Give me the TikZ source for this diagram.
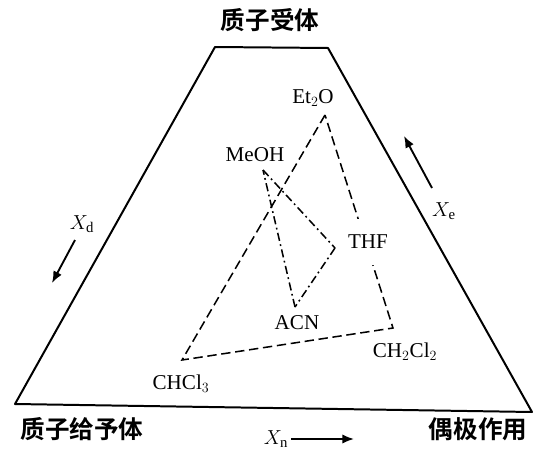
\documentclass[tikz,border=0pt]{standalone}
\usepackage{fontspec}
\setmainfont{Liberation Serif}
\newfontfamily\cjk{Noto Sans CJK SC}[BoldFont=* Bold]
\usetikzlibrary{arrows.meta}

\tikzset{
  chem/.style={font=\fontsize{18}{21}\selectfont, inner sep=1pt},
  zh/.style={font=\fontsize{21}{24}\selectfont\cjk\bfseries, inner sep=1pt},
  frame/.style={line width=1.7pt, line join=round},
  dsh/.style={line width=1.3pt, dash pattern=on 8pt off 4pt},
  dshdot/.style={line width=1.3pt, dash pattern=on 7pt off 3pt on 1.5pt off 3pt},
  xarrow/.style={line width=1.6pt, -{Latex[length=10pt,width=8pt]}}
}

\begin{document}
\begin{tikzpicture}[x=0.03cm, y=-0.03cm]
  \useasboundingbox (0,0) rectangle (536,450);
  % trapezoid: proton acceptor on top, donor left, dipole right
  \coordinate (tl) at (215,47);
  \coordinate (tr) at (328,48);
  \coordinate (br) at (532,412);
  \coordinate (bl) at (15,404);
  \draw[frame] (bl) -- (tl) -- (tr) -- (br) -- cycle;

  \node[zh] (acc) at (270,20) {质子受体};
  \node[zh] (don) at (82,429) {质子给予体};
  \node[zh] (dip) at (478,429) {偶极作用};

  % solvent points
  \coordinate (et)  at (325,115);
  \coordinate (me)  at (263,170);
  \coordinate (th)  at (335,248);
  \coordinate (ac)  at (295,307);
  \coordinate (dcm) at (393,328);
  \coordinate (chl) at (182,360);

  \draw[dsh] (et) -- (chl) -- (dcm) -- (et);
  \foreach \a/\b in {me/th,th/ac,ac/me}{\draw[dshdot] (\a) -- (\b);}

  \node[chem] (etl)  at (313,98)  {Et$_2$O};
  \node[chem] (mel)  at (255,155) {MeOH};
  \node[chem, fill=white, inner ysep=14pt] (thl) at (368,242) {THF};
  \node[chem] (acl)  at (297,323) {ACN};
  \node[chem] (dcml) at (405,352) {CH$_2$Cl$_2$};
  \node[chem] (chll) at (181,384) {CHCl$_3$};

  % direction arrows
  \coordinate (d1) at (75,240);  \coordinate (d2) at (52,283);
  \coordinate (e1) at (432,188); \coordinate (e2) at (404,136);
  \coordinate (n1) at (291,439); \coordinate (n2) at (354,439);
  \draw[xarrow] (d1) -- (d2);
  \draw[xarrow] (e1) -- (e2);
  \draw[xarrow] (n1) -- (n2);
  \node[chem] (xd) at (82,224) {$X_{\mathrm{d}}$};
  \node[chem] (xe) at (444,211) {$X_{\mathrm{e}}$};
  \node[chem, inner sep=0pt] (xn) at (276,439) {$X_{\mathrm{n}}$};
\end{tikzpicture}
\end{document}
